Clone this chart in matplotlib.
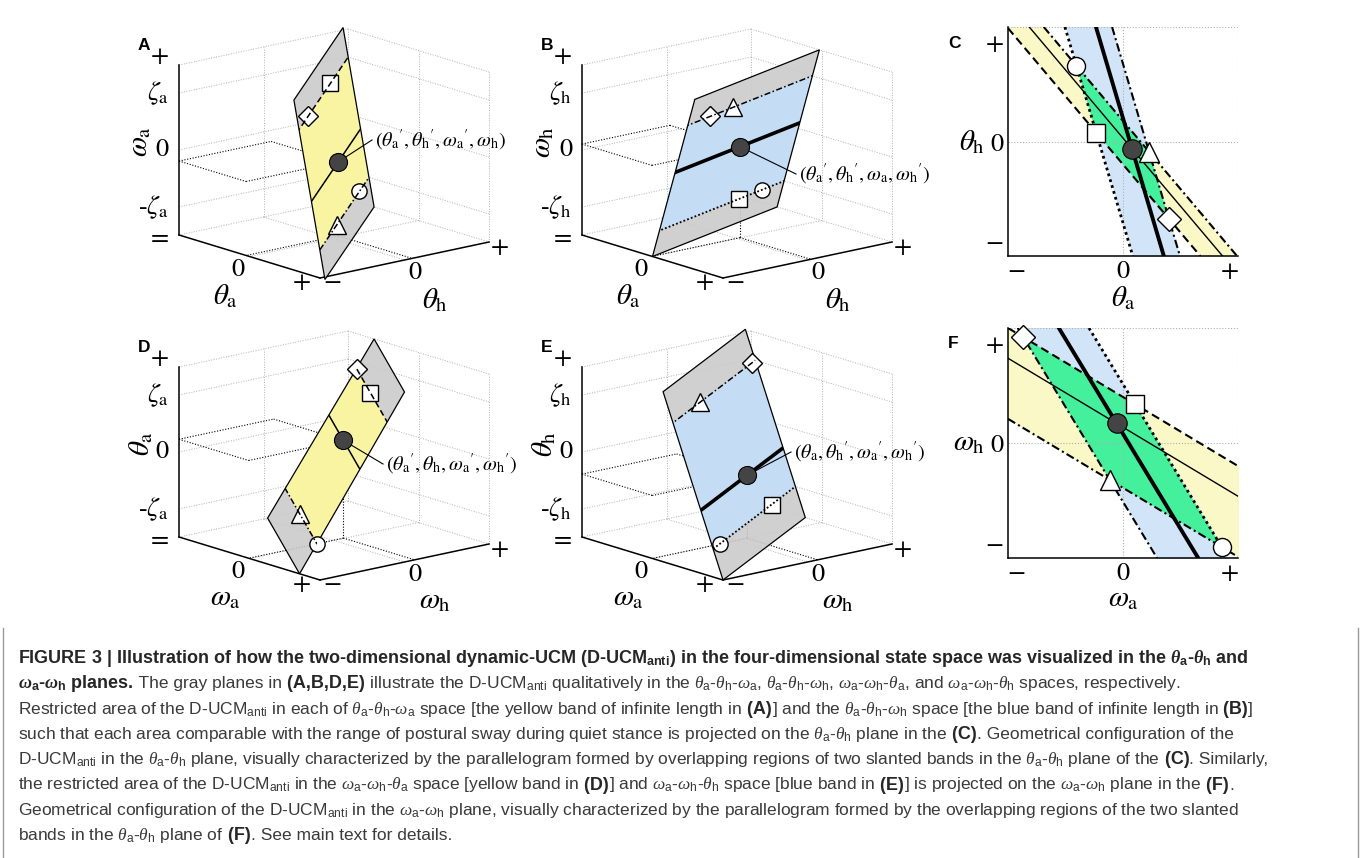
import matplotlib
matplotlib.use("Agg")
import numpy as np
import matplotlib.pyplot as plt
from matplotlib.patches import Polygon

plt.rcParams["mathtext.fontset"] = "custom"
plt.rcParams["mathtext.rm"] = "Liberation Sans"
plt.rcParams["mathtext.sf"] = "Liberation Sans"
plt.rcParams["mathtext.it"] = "Liberation Serif:italic"
plt.rcParams["mathtext.bf"] = "Liberation Sans:bold"
plt.rcParams["mathtext.bfit"] = "Liberation Serif:bold:italic"

# ---------------- values ----------------
ZETA = 0.67
z_ticks = [-1, -ZETA, 0, ZETA, 1]

# tilted planes in the 3-D boxes: first = k0*second + k1*third + k2
plane_A = [-0.85, -0.22, 0.0]
plane_B = [-0.315, 0.30, -0.015]
plane_D = [-1.63, 0.96, 0.04]
plane_E = [-0.615, -0.425, -0.04]

# plane outlines as (second, third) pairs
outline_A = [(-1, -1), (-1, 1), (1, 1), (1, -1)]
outline_B = [(-1, -1), (-1, 1), (1, 1), (1, -1)]
outline_D = [(0.05, -1), (-1, -1), (0, 1), (1, 1)]
outline_E = [(-1, -1), (-1, 1), (1, 1), (1, -1)]

# operating point (second, third)
point_A = (0.09, -0.13)
point_B = (0.04, 0.07)
point_D = (0.12, 0.15)
point_E = (0.12, -0.26)

# corner markers on the +zeta / -zeta lines: marker -> (second, third)
marks_A = {"s": (0.28, ZETA), "D": (-0.63, ZETA), "o": (0.61, -ZETA), "^": (-0.31, -ZETA)}
marks_B = {"D": (-0.64, ZETA), "^": (-0.27, ZETA), "s": (0.28, -ZETA), "o": (0.64, -ZETA)}
marks_D = {"s": (0.385, ZETA), "D": (0.84, ZETA), "^": (-0.27, -ZETA), "o": (-0.84, -ZETA)}
marks_E = {"^": (-0.34, ZETA), "D": (0.91, ZETA), "s": (0.42, -ZETA), "o": (-0.83, -ZETA)}

# 2-D projections: yellow band  y = slope*x + b ; blue band  x = slope*y + c
C_yellow_slope, C_yellow_b = -1.19, [-0.20, 0.03, 0.18]   # dashed, thin, dash-dot
C_blue_slope, C_blue_c = -0.295, [-0.21, 0.06, 0.20]      # dotted, thick, dash-dot
F_yellow_slope, F_yellow_b = -0.60, [0.40, 0.137, -0.39]  # dashed, thin, dash-dot
F_blue_slope, F_blue_c = -0.606, [0.31, 0.048, -0.31]     # dotted, thick, dash-dot

tick_text = ["\u2212", "0", "+"]

# ---------------- figure ----------------
W, H = 1360, 858
fig = plt.figure(figsize=(W / 100, H / 100), dpi=100)
fig.patch.set_facecolor("white")
ax = fig.add_axes([0, 0, 1, 1])
ax.set_xlim(0, W)
ax.set_ylim(H, 0)
ax.axis("off")

GRAY_PLANE = "#cbcbcb"
YEL3 = "#fbf7a0"
BLU3 = "#c4def7"
YEL2 = "#fbf8c8"
BLU2 = "#d2e5f8"
GREEN = "#44f09c"
GRID = "#b0b0b0"
DARK = "#444444"
serif = dict(family="STIXGeneral", math_fontfamily="stix", color="black")

EA = np.array([70.5, 21.5])
EH = np.array([84.5, -18.0])
EZ = np.array([0.0, -85.0])


def proj(c, a, h, z):
    return np.asarray(c, float) + a * EA + h * EH + z * EZ


def seg(c, p, q, **kw):
    P, Q = proj(c, *p), proj(c, *q)
    return ax.plot([P[0], Q[0]], [P[1], Q[1]], **kw)[0]


def on_plane(c, k, h, z):
    return proj(c, k[0] * h + k[1] * z + k[2], h, z)


def draw_box(c, letter, zlab, alab, hlab, zeta_sub):
    g = dict(color=GRID, lw=0.7, ls=(0, (1, 1.6)), zorder=1)
    for z in z_ticks:
        seg(c, (-1, -1, z), (-1, 1, z), **g)
        seg(c, (-1, 1, z), (1, 1, z), **g)
    for h in (0, 1):
        seg(c, (-1, h, -1), (-1, h, 1), **g)
    for a in (0, 1):
        seg(c, (a, 1, -1), (a, 1, 1), **g)
    seg(c, (0, -1, -1), (0, 1, -1), **g)
    seg(c, (-1, 0, -1), (1, 0, -1), **g)
    k = dict(color="black", lw=1.1, zorder=2)
    seg(c, (-1, -1, -1), (1, -1, -1), **k)
    seg(c, (1, -1, -1), (1, 1, -1), **k)
    seg(c, (-1, -1, -1), (-1, -1, 1), **k)

    L = proj(c, -1, -1, -1)
    # lowest vertical tick and the first horizontal tick share one corner
    zstr = ["=", "-$\\zeta_{\\rm %s}$" % zeta_sub, "0", "$\\zeta_{\\rm %s}$" % zeta_sub, "+"]
    for z, s in zip(z_ticks, zstr):
        p = proj(c, -1, -1, z)
        dy = -8 if z == 1 else (4 if z == -1 else 0)
        ax.text(p[0] - 10, p[1] + dy, s, ha="right", va="center", fontsize=19, **serif)
    p0 = proj(c, 0, -1, -1)
    ax.text(p0[0] - 12, p0[1] + 13, "0", ha="center", va="center", fontsize=19, **serif)
    Fc = proj(c, 1, -1, -1)
    ax.text(Fc[0] - 18, Fc[1] + 5, "+", ha="center", va="center", fontsize=19, **serif)
    ax.text(Fc[0] + 12, Fc[1] + 5, "\u2212", ha="center", va="center", fontsize=19, **serif)
    q0 = proj(c, 1, 0, -1)
    ax.text(q0[0] + 10, q0[1] + 13, "0", ha="center", va="center", fontsize=19, **serif)
    R = proj(c, 1, 1, -1)
    ax.text(R[0] + 11, R[1] + 6, "+", ha="center", va="center", fontsize=19, **serif)
    ax.text(p0[0] - 24, p0[1] + 40, alab, ha="center", va="center", fontsize=21, **serif)
    ax.text(q0[0] + 30, q0[1] + 40, hlab, ha="center", va="center", fontsize=21, **serif)
    zc = proj(c, -1, -1, 0)
    ax.text(L[0] - 38, zc[1] - 8, zlab, ha="center", va="center", rotation=90, fontsize=21, **serif)
    ax.text(L[0] - 41, proj(c, -1, -1, 1)[1] - 20, letter, ha="left", va="center",
            fontsize=12.5, fontweight="bold", family="Liberation Sans")


def draw_plane(c, k, outline, band_color, styles, widths, point, marks, label, lab_xy):
    a0 = k[0] * point[0] + k[1] * point[1] + k[2]
    h0, z0 = point
    # dotted guides from the operating point to the walls and the floor
    pr = dict(color="black", lw=0.8, ls=(0, (1, 1.5)), zorder=3)
    seg(c, (-1, -1, z0), (-1, h0, z0), **pr)
    seg(c, (-1, h0, z0), (a0, h0, z0), **pr)
    seg(c, (-1, -1, z0), (a0, -1, z0), **pr)
    seg(c, (a0, -1, z0), (a0, h0, z0), **pr)
    seg(c, (a0, h0, z0), (a0, h0, -1), **pr)
    seg(c, (a0, h0, -1), (a0, -1, -1), **pr)
    seg(c, (a0, h0, -1), (1, h0, -1), **pr)

    pts = [on_plane(c, k, h, z) for h, z in outline]
    gray = Polygon(pts, closed=True, facecolor=GRAY_PLANE, edgecolor="none", alpha=0.9, zorder=4)
    ax.add_patch(gray)
    band = [on_plane(c, k, h, z) for h, z in [(-5, -ZETA), (5, -ZETA), (5, ZETA), (-5, ZETA)]]
    bp = Polygon(band, closed=True, facecolor=band_color, edgecolor="none", alpha=0.95, zorder=5)
    ax.add_patch(bp)
    bp.set_clip_path(gray)
    ax.add_patch(Polygon(pts, closed=True, facecolor="none", edgecolor="black", lw=0.9, zorder=6))

    for m, (h, z) in marks.items():
        p = on_plane(c, k, h, z)
        ax.plot(p[0], p[1], marker=m, ms=13 if m == "^" else (11 if m != "D" else 10.5),
                mfc="white", mec="black", mew=1.0, zorder=7)
    for z, ls, lw in zip([ZETA, z0, -ZETA], styles, widths):
        P, Q = on_plane(c, k, -5, z), on_plane(c, k, 5, z)
        ln = ax.plot([P[0], Q[0]], [P[1], Q[1]], color="black", ls=ls, lw=lw, zorder=8)[0]
        ln.set_clip_path(gray)
    p = on_plane(c, k, h0, z0)
    ax.plot([p[0], lab_xy[0] - 3], [p[1], lab_xy[1]], color="black", lw=0.8, zorder=8)
    ax.plot(p[0], p[1], marker="o", ms=13, mfc=DARK, mec="black", mew=0.8, zorder=9)
    ax.text(lab_xy[0], lab_xy[1], label, ha="left", va="center", fontsize=14.5, **serif)


DASH = (0, (4, 2.2))
DASHDOT = (0, (4, 1.6, 1, 1.6))
DOT = (0, (1, 1.2))

cA, cB = (334, 153.5), (737, 153.5)
cD, cE = (334, 455.5), (737, 455.5)

draw_box(cA, "A", r"$\omega_{\rm a}$", r"$\theta_{\rm a}$", r"$\theta_{\rm h}$", "a")
draw_box(cB, "B", r"$\omega_{\rm h}$", r"$\theta_{\rm a}$", r"$\theta_{\rm h}$", "h")
draw_box(cD, "D", r"$\theta_{\rm a}$", r"$\omega_{\rm a}$", r"$\omega_{\rm h}$", "a")
draw_box(cE, "E", r"$\theta_{\rm h}$", r"$\omega_{\rm a}$", r"$\omega_{\rm h}$", "h")

draw_plane(cA, plane_A, outline_A, YEL3, [DASH, "-", DASHDOT], [1.1, 1.1, 1.1], point_A, marks_A,
           r"$(\theta_{\rm a}{}^{\prime},\theta_{\rm h}{}^{\prime},\omega_{\rm a}{}^{\prime},\omega_{\rm h})$",
           (375, 140))
draw_plane(cB, plane_B, outline_B, BLU3, [DASHDOT, "-", DOT], [1.1, 2.6, 1.3], point_B, marks_B,
           r"$(\theta_{\rm a}{}^{\prime},\theta_{\rm h}{}^{\prime},\omega_{\rm a},\omega_{\rm h}{}^{\prime})$",
           (799, 174))
draw_plane(cD, plane_D, outline_D, YEL3, [DASH, "-", DASHDOT], [1.1, 1.1, 1.1], point_D, marks_D,
           r"$(\theta_{\rm a}{}^{\prime},\theta_{\rm h},\omega_{\rm a}{}^{\prime},\omega_{\rm h}{}^{\prime})$",
           (386, 464))
draw_plane(cE, plane_E, outline_E, BLU3, [DASHDOT, "-", DOT], [1.1, 2.6, 1.3], point_E, marks_E,
           r"$(\theta_{\rm a},\theta_{\rm h}{}^{\prime},\omega_{\rm a}{}^{\prime},\omega_{\rm h}{}^{\prime})$",
           (794, 452))


# ---------------- 2-D panels ----------------
def intersect(my, b, mb, c):
    # y = my*x + b ; x = mb*y + c
    y = (my * c + b) / (1 - my * mb)
    return mb * y + c, y


def draw_2d(rect, ys, yb, bs, bc, ystyles, bstyles):
    l, t, r, btm = rect
    a2 = fig.add_axes([l / W, 1 - btm / H, (r - l) / W, (btm - t) / H])
    a2.set_xlim(-1, 1)
    a2.set_ylim(-1, 1)
    xx = np.array([-2.0, 2.0])
    a2.fill_between(xx, ys * xx + yb[0], ys * xx + yb[2], color=YEL2, lw=0, zorder=1)
    a2.fill_betweenx(xx, bs * xx + bc[0], bs * xx + bc[2], color=BLU2, lw=0, zorder=2)
    corners = [intersect(ys, yb[0], bs, bc[0]), intersect(ys, yb[0], bs, bc[2]),
               intersect(ys, yb[2], bs, bc[2]), intersect(ys, yb[2], bs, bc[0])]
    a2.add_patch(Polygon(corners, closed=True, facecolor=GREEN, edgecolor="none", zorder=3))
    g = dict(color=GRID, lw=0.8, ls=(0, (1, 1.6)), zorder=4)
    a2.axhline(0, **g)
    a2.axvline(0, **g)
    a2.axhline(1, **g)
    a2.axvline(1, **g)
    for b, (ls, lw) in zip(yb, ystyles):
        a2.axline((0, b), slope=ys, color="black", ls=ls, lw=lw, zorder=5)
    for cc, (ls, lw) in zip(bc, bstyles):
        a2.axline((cc, 0), slope=1 / bs, color="black", ls=ls, lw=lw, zorder=5)
    return a2, corners


def finish_2d(a2, letter, marks, dark, ylab, xlab, rect):
    l, t, r, btm = rect
    for m, (x, y) in marks:
        a2.plot(x, y, marker=m, ms=15 if m == "^" else (13 if m != "D" else 12),
                mfc="white", mec="black", mew=1.0, zorder=7, clip_on=False)
    a2.plot(dark[0], dark[1], marker="o", ms=14, mfc=DARK, mec="black", mew=0.8, zorder=8)
    for s in ("top", "right"):
        a2.spines[s].set_visible(False)
    for s in ("left", "bottom"):
        a2.spines[s].set_linewidth(1.1)
        a2.spines[s].set_zorder(9)
    a2.set_xticks([-0.93, 0, 0.93], tick_text, fontsize=19, **serif)
    a2.set_yticks([-0.87, 0, 0.87], tick_text, fontsize=19, **serif)
    a2.tick_params(length=0, pad=3)
    a2.set_facecolor("white")
    cx = (l + r) / 2
    ax.text(cx, btm + 42, xlab, ha="center", va="center", fontsize=21, **serif)
    ax.text(985, (t + btm) / 2 + 1, ylab, ha="right", va="center", fontsize=21, **serif)
    ax.text(948, t + 16, letter, ha="left", va="center", fontsize=12.5, fontweight="bold",
            family="Liberation Sans")


rectC = (1008, 27, 1238, 256)
rectF = (1008, 328, 1238, 558)

aC, cornC = draw_2d(rectC, C_yellow_slope, C_yellow_b, C_blue_slope, C_blue_c,
                    [(DASH, 1.5), ("-", 1.0), (DASHDOT, 1.5)],
                    [(DOT, 2.0), ("-", 2.8), (DASHDOT, 1.5)])
# corners: square, diamond, triangle, circle
darkC = intersect(C_yellow_slope, C_yellow_b[1], C_blue_slope, C_blue_c[1])
finish_2d(aC, "C", list(zip(["s", "D", "^", "o"], cornC)), darkC,
          r"$\theta_{\rm h}$", r"$\theta_{\rm a}$", rectC)

aF, cornF = draw_2d(rectF, F_yellow_slope, F_yellow_b, F_blue_slope, F_blue_c,
                    [(DASH, 1.5), ("-", 1.0), (DASHDOT, 1.5)],
                    [(DOT, 2.0), ("-", 2.8), (DASHDOT, 1.5)])
darkF = intersect(F_yellow_slope, F_yellow_b[1], F_blue_slope, F_blue_c[1])
finish_2d(aF, "F", list(zip(["s", "D", "^", "o"], cornF)), darkF,
          r"$\omega_{\rm h}$", r"$\omega_{\rm a}$", rectF)

# ---------------- caption ----------------
CAP = ["Liberation Sans"]
renderer = fig.canvas.get_renderer()


def rich(y, parts, x=18):
    for txt, bold in parts:
        t = ax.text(x, y, txt, fontsize=13.0 if bold else 12.5, family=CAP, va="baseline",
                    ha="left", fontweight="bold" if bold else "normal",
                    color="#262626" if bold else "#3a3a3a")
        x += t.get_window_extent(renderer).width


ta, th = r"$\theta_{\rm a}$", r"$\theta_{\rm h}$"
wa, wh = r"$\omega_{\rm a}$", r"$\omega_{\rm h}$"
ucm = r"D-UCM$_{\rm anti}$"
lines = [
    [("FIGURE 3 | Illustration of how the two-dimensional dynamic-UCM (D-UCM$_{\\mathbf{anti}}$) in the "
      "four-dimensional state space was visualized in the "
      "$\\mathbfit{\\theta}_{\\mathbf{a}}$-$\\mathbfit{\\theta}_{\\mathbf{h}}$ and", True)],
    [("$\\mathbfit{\\omega}_{\\mathbf{a}}$-$\\mathbfit{\\omega}_{\\mathbf{h}}$ planes.", True),
     (" The gray planes in", False), (" (A,B,D,E)", True),
     (f" illustrate the {ucm} qualitatively in the {ta}-{th}-{wa}, {ta}-{th}-{wh}, "
      f"{wa}-{wh}-{ta}, and {wa}-{wh}-{th} spaces, respectively.", False)],
    [(f"Restricted area of the {ucm} in each of {ta}-{th}-{wa} space [the yellow band of infinite length in", False),
     (" (A)", True), (f"] and the {ta}-{th}-{wh} space [the blue band of infinite length in", False),
     (" (B)", True), ("]", False)],
    [(f"such that each area comparable with the range of postural sway during quiet stance is projected on the "
      f"{ta}-{th} plane in the", False), (" (C)", True), (". Geometrical configuration of the", False)],
    [(f"{ucm} in the {ta}-{th} plane, visually characterized by the parallelogram formed by overlapping "
      f"regions of two slanted bands in the {ta}-{th} plane of the", False), (" (C)", True),
     (". Similarly,", False)],
    [(f"the restricted area of the {ucm} in the {wa}-{wh}-{ta} space [yellow band in", False), (" (D)", True),
     (f"] and {wa}-{wh}-{th} space [blue band in", False), (" (E)", True),
     (f"] is projected on the {wa}-{wh} plane in the", False), (" (F)", True), (".", False)],
    [(f"Geometrical configuration of the {ucm} in the {wa}-{wh} plane, visually characterized by the "
      "parallelogram formed by the overlapping regions of the two slanted", False)],
    [(f"bands in the {ta}-{th} plane of", False), (" (F)", True), (". See main text for details.", False)],
]
for i, parts in enumerate(lines):
    rich(663 + 25.3 * i, parts)

ax.plot([3, 3], [628, H], color="#9a9a9a", lw=1.0)
ax.plot([W - 2, W - 2], [628, H], color="#9a9a9a", lw=1.0)

fig.savefig("out.png", dpi=100, facecolor="white")
